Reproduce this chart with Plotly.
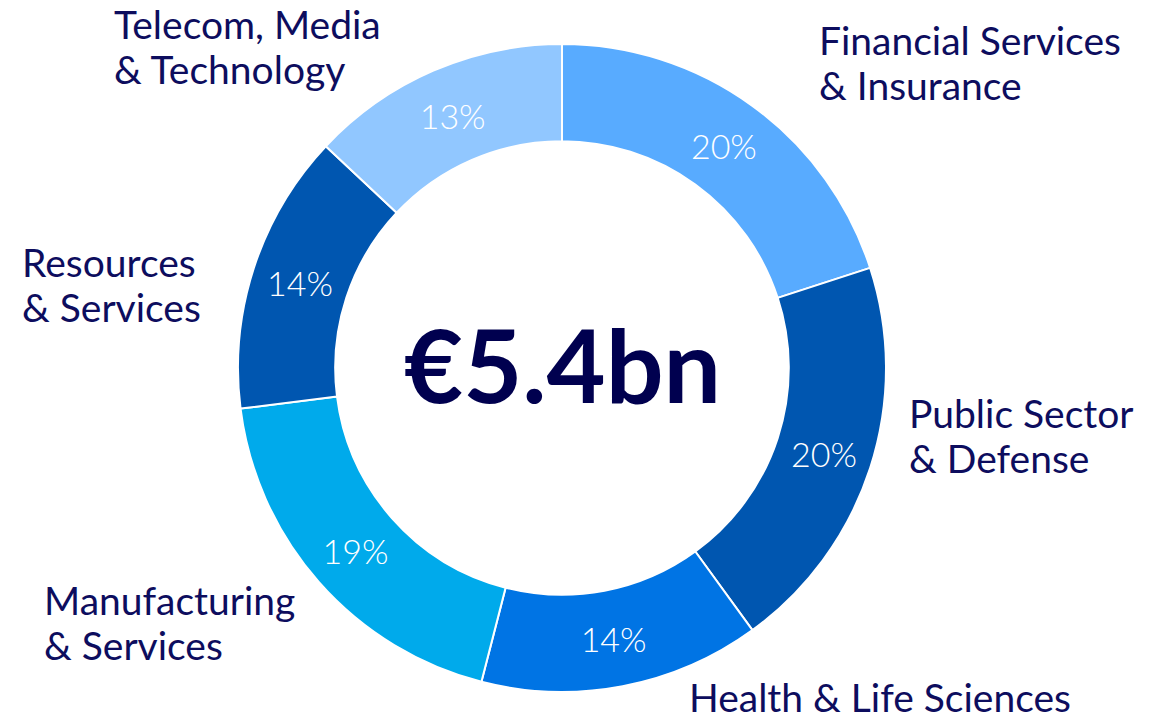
import plotly.graph_objects as go

sectors = ["Financial Services & Insurance", "Public Sector & Defense", "Health & Life Sciences",
           "Manufacturing & Services", "Resources & Services", "Telecom, Media & Technology"]
shares = [20, 20, 14, 19, 14, 13]
colors = ["#58abff", "#0056b0", "#0074e4", "#00aaeb", "#0056b0", "#91c7ff"]
label_lines = [["Financial Services", "& Insurance"], ["Public Sector", "& Defense"],
               ["Health & Life Sciences"], ["Manufacturing", "& Services"],
               ["Resources", "& Services"], ["Telecom, Media", "& Technology"]]
label_pos = [(820, 40), (910, 413), (690, 697), (45, 600), (23, 262), (115, 24)]
total_text = "€5.4bn"

W, H = 1168, 715
OFF = 8          # page body margin offset of the rendered figure
LINE = 45        # label line spacing in px
cx, cy, R = 562 - OFF, 368 - OFF, 324

fig = go.Figure(go.Pie(
    labels=sectors, values=shares, sort=False, direction="clockwise", rotation=0,
    hole=0.70,
    marker=dict(colors=colors, line=dict(color="white", width=2)),
    texttemplate="%{value}%", textposition="inside", insidetextorientation="horizontal",
    textfont=dict(family="Lato", size=34, color="white", weight=300),
    domain=dict(x=[(cx - R) / W, (cx + R) / W], y=[(H - cy - R) / H, (H - cy + R) / H]),
    showlegend=False, hoverinfo="label+percent",
))

annotations = []
for lines, (x, y) in zip(label_lines, label_pos):
    for i, t in enumerate(lines):
        annotations.append(dict(text=t, x=(x - OFF - 3) / W, y=1 - (y - OFF + i * LINE) / H,
                                xref="paper", yref="paper", xanchor="left", yanchor="middle",
                                align="left", showarrow=False,
                                font=dict(family="Lato", size=39, color="#0d0d5e", weight=400)))
annotations.append(dict(text="<b>" + total_text + "</b>", x=cx / W, y=1 - (364 - OFF) / H,
                        xref="paper", yref="paper", xanchor="center", yanchor="middle", showarrow=False,
                        font=dict(family="Lato", size=102, color="#00004f")))

fig.update_layout(width=W, height=H, margin=dict(l=0, r=0, t=0, b=0),
                  paper_bgcolor="white", plot_bgcolor="white", annotations=annotations)
fig.write_html("out.html")
